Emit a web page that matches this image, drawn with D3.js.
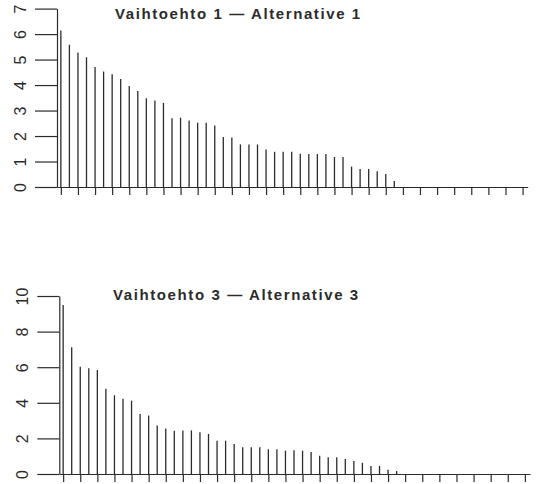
<!DOCTYPE html>
<html>
<head>
<meta charset="utf-8">
<script src="https://cdn.jsdelivr.net/npm/d3@7"></script>
<style>
  body { margin: 0; background: #fff; }
  svg { display: block; }
  .axis path, .axis line { stroke: #2b2b2b; stroke-width: 1.2; }
  .axis text { font-family: "Liberation Sans", Arial, sans-serif; font-size: 16px; fill: #2b2b2b; }
  .title { font-family: "Liberation Sans", Arial, sans-serif; font-weight: bold; font-size: 15px; fill: #2b2b2b; letter-spacing: 1.6px; }
</style>
</head>
<body>
<script>
// values, one stem per position
var values1 = [6.14, 5.58, 5.28, 5.09, 4.71, 4.53, 4.42, 4.24, 3.96, 3.77,
  3.48, 3.39, 3.30, 2.70, 2.72, 2.61, 2.52, 2.52, 2.41, 1.96,
  1.94, 1.67, 1.67, 1.67, 1.47, 1.38, 1.38, 1.38, 1.30, 1.29,
  1.29, 1.29, 1.18, 1.18, 0.80, 0.71, 0.71, 0.62, 0.51, 0.24];
var values3 = [9.49, 7.12, 6.03, 5.94, 5.84, 4.79, 4.42, 4.23, 4.12, 3.37,
  3.28, 2.73, 2.55, 2.43, 2.45, 2.45, 2.34, 2.25, 1.87, 1.87,
  1.69, 1.50, 1.50, 1.50, 1.39, 1.39, 1.31, 1.33, 1.31, 1.24,
  1.03, 0.94, 0.94, 0.84, 0.73, 0.63, 0.45, 0.45, 0.24, 0.17];
var positions = 55;
var yTicks1 = [0, 1, 2, 3, 4, 5, 6, 7];
var yTicks3 = [0, 2, 4, 6, 8, 10];
var xTicks = d3.range(0, positions, 2);

var svg = d3.select('body').append('svg')
  .attr('width', 542).attr('height', 484);

function panel(opt) {
  var x = d3.scaleLinear().domain([-0.45, positions - 0.4]).range([opt.left, opt.right]);
  var y = d3.scaleLinear().domain([0, opt.max]).range([opt.bottom, opt.top]);
  var g = svg.append('g');

  var ya = g.append('g').attr('class', 'axis')
    .attr('transform', 'translate(' + opt.left + ',0)')
    .call(d3.axisLeft(y).tickValues(opt.ticks).tickFormat(d3.format('d'))
      .tickSize(22).tickSizeOuter(0).tickPadding(0));
  ya.selectAll('.tick text')
    .attr('x', 0).attr('dy', 0)
    .attr('text-anchor', 'middle')
    .attr('transform', 'translate(-31,0) rotate(-90)');

  g.append('g').attr('class', 'axis')
    .attr('transform', 'translate(0,' + opt.bottom + ')')
    .call(d3.axisBottom(x).tickValues(xTicks).tickSize(8).tickSizeOuter(0).tickFormat(''));

  g.selectAll('line.stem').data(opt.values).enter().append('line')
    .attr('class', 'stem')
    .attr('x1', function(d, i) { return x(i); })
    .attr('x2', function(d, i) { return x(i); })
    .attr('y1', y(0))
    .attr('y2', function(d) { return y(d); })
    .style('stroke', '#2b2b2b')
    .style('stroke-width', 1.3);

  g.append('text').attr('class', 'title')
    .attr('x', opt.titleX).attr('y', opt.titleY)
    .text(opt.title);
}

panel({ values: values1, max: 7, ticks: yTicks1, left: 57, right: 527.7, top: 8.6, bottom: 187,
  title: 'Vaihtoehto 1 \u2014 Alternative 1', titleX: 115, titleY: 18.5 });
panel({ values: values3, max: 10, ticks: yTicks3, left: 59.3, right: 530, top: 296, bottom: 474,
  title: 'Vaihtoehto 3 \u2014 Alternative 3', titleX: 113, titleY: 299.5 });
</script>
</body>
</html>
